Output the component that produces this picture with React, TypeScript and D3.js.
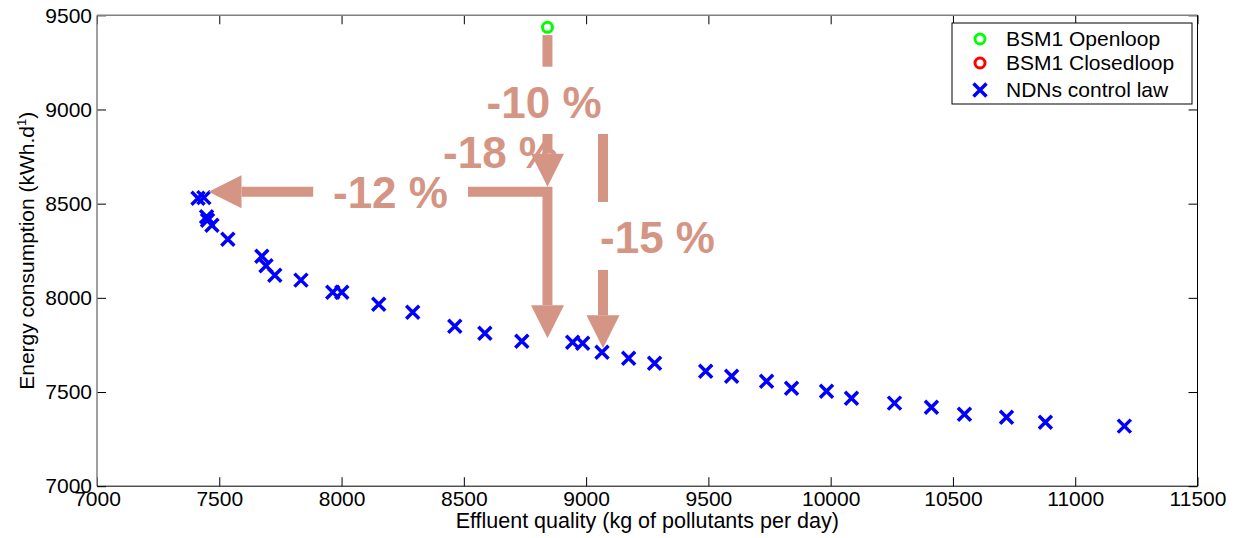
import React, { useEffect, useRef } from "react";
import { select, scaleLinear, axisBottom, axisLeft, axisTop, axisRight } from "d3";

// NDNs control law points (effluent quality, energy consumption)
const ndnsEQ = [
  7413, 7437, 7448, 7452, 7470, 7535, 7674, 7691, 7727, 7834, 7964, 8001,
  8152, 8291, 8463, 8586, 8737, 8945, 8986, 9065, 9174, 9280, 9489, 9595,
  9738, 9840, 9983, 10085, 10261, 10412, 10547, 10719, 10878, 11201,
];
const ndnsEC = [
  8529, 8532, 8430, 8412, 8385, 8311, 8221, 8170, 8120, 8094, 8030, 8030,
  7966, 7924, 7849, 7812, 7770, 7764, 7759, 7711, 7679, 7653, 7610, 7584,
  7557, 7520, 7504, 7467, 7441, 7419, 7382, 7366, 7340, 7319,
];
const openloopEQ = [8842];
const openloopEC = [9436];
// closed loop point sits under the -10 % arrow head
const closedloopEQ = [8842];
const closedloopEC = [8689];

const xTicks = [7000, 7500, 8000, 8500, 9000, 9500, 10000, 10500, 11000, 11500];
const yTicks = [7000, 7500, 8000, 8500, 9000, 9500];
const legendLabels = ["BSM1 Openloop", "BSM1 Closedloop", "NDNs control law"];

// annotation arrows in data units: [fromEQ, fromEC, toEQ, toEC, hasHead]
const arrowSegments: [number, number, number, number, boolean][] = [
  [8842, 9395, 8842, 9227, false],
  [8842, 8870, 8842, 8590, true],
  [8842, 8588, 8842, 7785, true],
  [8860, 8563, 8517, 8563, false],
  [7884, 8563, 7456, 8563, true],
  [9069, 8870, 9069, 8509, false],
  [9069, 8148, 9069, 7732, true],
];
const noteLabels = ["-10 %", "-18 %", "-12 %", "-15 %"];
const noteEQ = [8828, 8415, 7965, 9057];
const noteEC = [8954, 8689, 8477, 8238];
const noteAnchor = ["middle", "start", "start", "start"];

const W = 1238;
const H = 538;
const margin = { left: 97, right: 40.5, top: 15.3, bottom: 51.8 };
const salmon = "#d59585";
const font = "'Liberation Sans', Arial, sans-serif";

const App = () => {
  const svgRef = useRef<SVGSVGElement>(null);

  useEffect(() => {
    const svg = select(svgRef.current);
    svg.selectAll("*").remove();

    const x = scaleLinear().domain([7000, 11500]).range([margin.left, W - margin.right]);
    const y = scaleLinear().domain([7000, 9500]).range([H - margin.bottom, margin.top]);
    const [x0, x1] = x.range();
    const [y0, y1] = y.range();

    svg.append("rect").attr("width", W).attr("height", H).attr("fill", "#fff");

    // axes with inward ticks, matlab style
    const styleAxis = (g) => {
      g.attr("font-family", font).attr("font-size", 21).attr("fill", "#000");
      g.select(".domain").remove();
      g.selectAll(".tick line").attr("stroke", "#000");
      g.selectAll(".tick text").attr("fill", "#000");
    };
    const fmt = (d) => String(d);
    svg.append("g").attr("transform", `translate(0,${y0})`)
      .call(axisBottom(x).tickValues(xTicks).tickFormat(fmt).tickSizeInner(-9).tickSizeOuter(0).tickPadding(5))
      .call(styleAxis);
    svg.append("g").attr("transform", `translate(0,${y1})`)
      .call(axisTop(x).tickValues(xTicks).tickFormat(() => "").tickSizeInner(-9).tickSizeOuter(0))
      .call(styleAxis);
    svg.append("g").attr("transform", `translate(${x0},0)`)
      .call(axisLeft(y).tickValues(yTicks).tickFormat(fmt).tickSizeInner(-9).tickSizeOuter(0).tickPadding(5))
      .call(styleAxis);
    svg.append("g").attr("transform", `translate(${x1},0)`)
      .call(axisRight(y).tickValues(yTicks).tickFormat(() => "").tickSizeInner(-9).tickSizeOuter(0))
      .call(styleAxis);

    // box
    svg.append("line").attr("x1", x0).attr("x2", x1).attr("y1", y1).attr("y2", y1).attr("stroke", "#808080").attr("stroke-width", 1.5);
    svg.append("line").attr("x1", x0).attr("x2", x0).attr("y1", y1).attr("y2", y0).attr("stroke", "#808080").attr("stroke-width", 1.5);
    svg.append("line").attr("x1", x0).attr("x2", x1).attr("y1", y0).attr("y2", y0).attr("stroke", "#000");
    svg.append("line").attr("x1", x1).attr("x2", x1).attr("y1", y1).attr("y2", y0).attr("stroke", "#000");

    // axis titles
    svg.append("text")
      .attr("x", (x0 + x1) / 2).attr("y", 528)
      .attr("text-anchor", "middle")
      .attr("font-family", font).attr("font-size", 21.5)
      .text("Effluent quality (kg of pollutants per day)");
    const yl = svg.append("text")
      .attr("transform", `translate(34,${(y0 + y1) / 2}) rotate(-90)`)
      .attr("text-anchor", "middle")
      .attr("font-family", font).attr("font-size", 21);
    yl.append("tspan").text("Energy consumption (kWh.d");
    yl.append("tspan").attr("dy", -8).attr("font-size", 13).text("1");
    yl.append("tspan").attr("dy", 8).text(")");

    const cross = (g, cx, cy, s) => {
      g.append("path")
        .attr("d", `M${cx - s},${cy - s}L${cx + s},${cy + s}M${cx - s},${cy + s}L${cx + s},${cy - s}`)
        .attr("stroke", "#0000ff").attr("stroke-width", 3.5).attr("fill", "none");
    };

    // data
    const pts = svg.append("g");
    closedloopEQ.forEach((d, i) => {
      pts.append("circle").attr("cx", x(d)).attr("cy", y(closedloopEC[i])).attr("r", 5)
        .attr("fill", "none").attr("stroke", "#ff0000").attr("stroke-width", 3);
    });
    openloopEQ.forEach((d, i) => {
      pts.append("circle").attr("cx", x(d)).attr("cy", y(openloopEC[i])).attr("r", 5)
        .attr("fill", "none").attr("stroke", "#00ff00").attr("stroke-width", 3);
    });
    ndnsEQ.forEach((d, i) => cross(pts, x(d), y(ndnsEC[i]), 6.5));

    // annotation texts
    noteLabels.forEach((t, i) => {
      svg.append("text")
        .attr("x", x(noteEQ[i])).attr("y", y(noteEC[i]))
        .attr("text-anchor", noteAnchor[i])
        .attr("font-family", font).attr("font-weight", "bold").attr("font-size", 44)
        .attr("fill", salmon)
        .text(t);
    });

    // annotation arrows, drawn over points and texts
    const headLen = 33;
    const headHalf = 16.5;
    arrowSegments.forEach(([ax, ay, bx, by, head]) => {
      const px1 = x(ax), py1 = y(ay), px2 = x(bx), py2 = y(by);
      const len = Math.hypot(px2 - px1, py2 - py1);
      const ux = (px2 - px1) / len, uy = (py2 - py1) / len;
      const ex = head ? px2 - ux * headLen : px2;
      const ey = head ? py2 - uy * headLen : py2;
      svg.append("line").attr("x1", px1).attr("y1", py1).attr("x2", ex).attr("y2", ey)
        .attr("stroke", salmon).attr("stroke-width", 10);
      if (head) {
        svg.append("path")
          .attr("d", `M${px2},${py2}L${ex - uy * headHalf},${ey + ux * headHalf}L${ex + uy * headHalf},${ey - ux * headHalf}Z`)
          .attr("fill", salmon);
      }
    });

    // legend
    const lg = svg.append("g");
    lg.append("rect").attr("x", 952).attr("y", 23).attr("width", 240).attr("height", 81)
      .attr("fill", "#fff").attr("stroke", "#000");
    const rowY = [39, 63, 90];
    legendLabels.forEach((t, i) => {
      lg.append("text").attr("x", 1006).attr("y", rowY[i]).attr("dy", "0.35em")
        .attr("font-family", font).attr("font-size", 21).text(t);
    });
    lg.append("circle").attr("cx", 980).attr("cy", rowY[0]).attr("r", 5)
      .attr("fill", "none").attr("stroke", "#00ff00").attr("stroke-width", 3);
    lg.append("circle").attr("cx", 980).attr("cy", rowY[1]).attr("r", 5)
      .attr("fill", "none").attr("stroke", "#ff0000").attr("stroke-width", 3);
    cross(lg, 980, rowY[2], 6.5);
  }, []);

  return (
    <div style={{ position: "absolute", left: 0, top: 0 }}>
      <svg ref={svgRef} width={W} height={H} style={{ display: "block" }} />
    </div>
  );
};

export default App;
